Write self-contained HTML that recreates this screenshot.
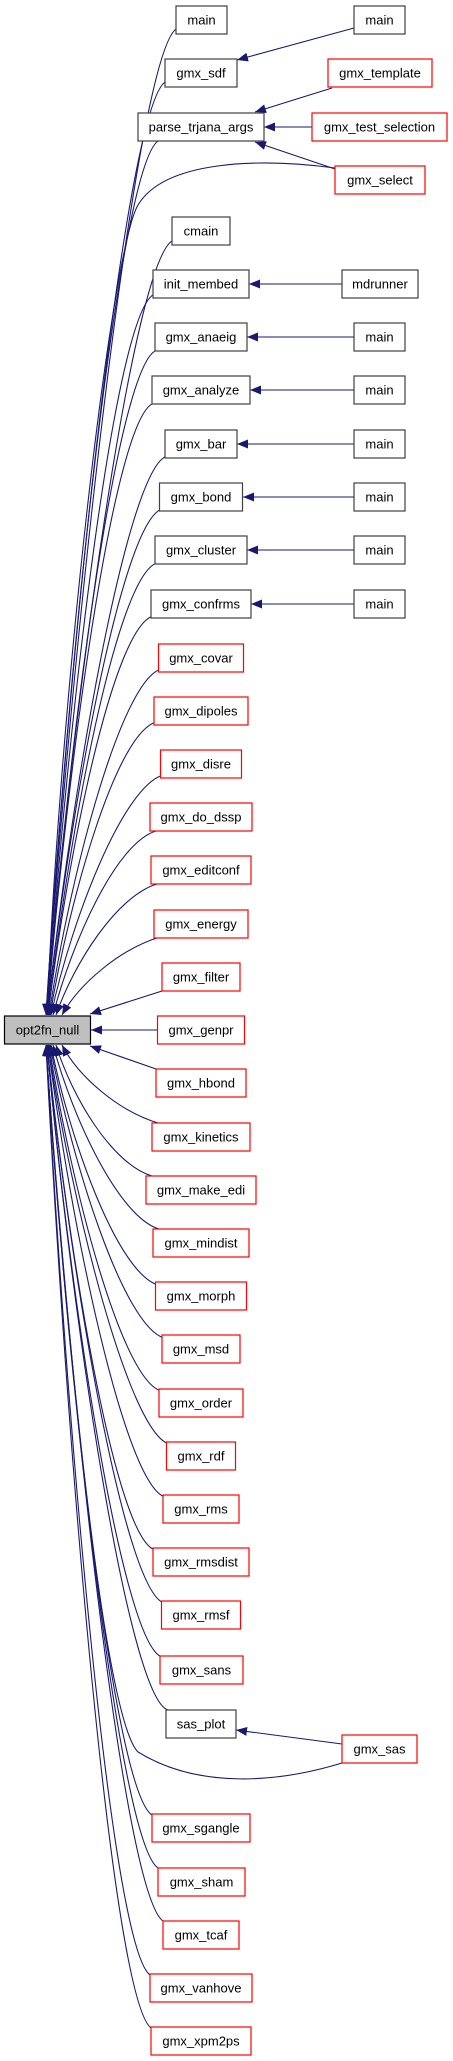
<!DOCTYPE html>
<html><head><meta charset="utf-8"><style>
html,body{margin:0;padding:0;background:#fff;width:453px;height:2061px;overflow:hidden}
svg{display:block}
text{font-family:"Liberation Sans",Arial,sans-serif;font-size:13px;text-anchor:middle;fill:#000}
.b{fill:#fff;stroke:#404040;stroke-width:1.2}
.r{fill:#fff;stroke:#ff0000;stroke-width:1.2}
.e{fill:none;stroke:#191970;stroke-width:1.1;marker-end:url(#a)}
</style></head><body>
<svg width="453" height="2061" viewBox="0 0 453 2061" xmlns="http://www.w3.org/2000/svg">
<defs><marker id="a" markerUnits="userSpaceOnUse" markerWidth="12" markerHeight="9" refX="11" refY="4.5" orient="auto"><path d="M0,0 L11,4.5 L0,9 z" fill="#191970"/></marker></defs>
<!-- edges up -->
<path class="e" d="M178,28 C138,40 74,620 46,1015"/>
<path class="e" d="M167,81 C127,93 70,641 46,1015"/>
<path class="e" d="M160,140 C120,152 68,665 46,1015"/>
<path class="e" d="M335,168 C260,158 165,160 138,205 C111,250 60,700 47,1015"/>
<path class="e" d="M174,240 C134,252 73,705 46,1015"/>
<path class="e" d="M155,294 C115,306 67,727 47,1015"/>
<path class="e" d="M157,350 C117,362 68,748 47,1015"/>
<path class="e" d="M154,403 C114,415 67,769 47,1015"/>
<path class="e" d="M167,456 C127,468 72,790 47,1015"/>
<path class="e" d="M162,509 C122,521 70,811 47,1015"/>
<path class="e" d="M157,563 C117,575 69,833 48,1015"/>
<path class="e" d="M153,616 C113,628 68,854 48,1015"/>
<path class="e" d="M161,669 C121,681 70,875 49,1015"/>
<path class="e" d="M156,722 C116,734 70,897 50,1015"/>
<path class="e" d="M163,775 C123,787 72,918 51,1015"/>
<path class="e" d="M156,831 C116,843 72,942 53,1015"/>
<path class="e" d="M157,884 C117,896 74,963 56,1015"/>
<path class="e" d="M160,937 C120,949 79,984 62,1015"/>
<path class="e" d="M162,991 L90,1014"/>
<path class="e" d="M157,1030 L91,1030"/>
<!-- edges down -->
<path class="e" d="M156,1069 L90,1046"/>
<path class="e" d="M158,1123 C118,1111 78,1076 62,1045"/>
<path class="e" d="M152,1176 C112,1164 72,1097 56,1045"/>
<path class="e" d="M159,1229 C119,1217 73,1119 53,1045"/>
<path class="e" d="M158,1285 C118,1273 70,1142 51,1045"/>
<path class="e" d="M164,1338 C124,1326 72,1164 50,1045"/>
<path class="e" d="M161,1391 C121,1379 71,1185 49,1045"/>
<path class="e" d="M169,1444 C129,1432 72,1206 48,1045"/>
<path class="e" d="M165,1497 C125,1485 71,1227 48,1045"/>
<path class="e" d="M155,1550 C115,1538 68,1249 47,1045"/>
<path class="e" d="M164,1603 C124,1591 70,1270 47,1045"/>
<path class="e" d="M162,1657 C122,1645 69,1291 47,1045"/>
<path class="e" d="M168,1710 C128,1698 71,1312 47,1045"/>
<path class="e" d="M342,1763 C280,1782 200,1790 138,1752 C105,1720 66,1350 46,1045"/>
<path class="e" d="M154,1816 C114,1804 66,1355 46,1045"/>
<path class="e" d="M160,1869 C120,1857 68,1376 46,1045"/>
<path class="e" d="M165,1922 C125,1910 70,1397 46,1045"/>
<path class="e" d="M152,1976 C112,1964 66,1419 46,1045"/>
<path class="e" d="M153,2029 C113,2017 66,1440 46,1045"/>
<!-- right-to-left edges -->
<path class="e" d="M354,28 L237,60"/>
<path class="e" d="M332,88 L255,112"/>
<path class="e" d="M312,127 L264,127"/>
<path class="e" d="M335,169 L255,142"/>
<path class="e" d="M342,284 L249,284"/>
<path class="e" d="M354,337 L247,337"/>
<path class="e" d="M354,390 L250,390"/>
<path class="e" d="M354,444 L237,444"/>
<path class="e" d="M354,497 L243,497"/>
<path class="e" d="M354,550 L247,550"/>
<path class="e" d="M354,604 L251,604"/>
<path class="e" d="M342,1744 L236,1730"/>
<!-- central node -->
<rect x="4.5" y="1016" width="86" height="28" fill="#bfbfbf" stroke="#000" stroke-width="1.2"/><text x="47.5" y="1034.5">opt2fn_null</text>
<!-- left column -->
<rect class="b" x="176" y="6" width="51" height="28"/><text x="201.5" y="24.5">main</text>
<rect class="b" x="165" y="59" width="72" height="28"/><text x="201" y="77.5">gmx_sdf</text>
<rect class="b" x="138" y="113" width="126" height="28"/><text x="201" y="131.5">parse_trjana_args</text>
<rect class="b" x="172" y="217" width="58" height="28"/><text x="201" y="235.5">cmain</text>
<rect class="b" x="153" y="270" width="96" height="28"/><text x="201" y="288.5">init_membed</text>
<rect class="b" x="155" y="323" width="92" height="28"/><text x="201" y="341.5">gmx_anaeig</text>
<rect class="b" x="152" y="376" width="98" height="28"/><text x="201" y="394.5">gmx_analyze</text>
<rect class="b" x="165" y="430" width="72" height="28"/><text x="201" y="448.5">gmx_bar</text>
<rect class="b" x="159.5" y="483" width="83" height="28"/><text x="201" y="501.5">gmx_bond</text>
<rect class="b" x="155" y="536" width="92" height="28"/><text x="201" y="554.5">gmx_cluster</text>
<rect class="b" x="151" y="590" width="100" height="28"/><text x="201" y="608.5">gmx_confrms</text>
<rect class="r" x="158.5" y="644" width="85" height="28"/><text x="201" y="662.5">gmx_covar</text>
<rect class="r" x="154" y="697" width="94" height="28"/><text x="201" y="715.5">gmx_dipoles</text>
<rect class="r" x="160.5" y="750" width="81" height="28"/><text x="201" y="768.5">gmx_disre</text>
<rect class="r" x="150" y="803" width="102" height="28"/><text x="201" y="821.5">gmx_do_dssp</text>
<rect class="r" x="151" y="856" width="100" height="28"/><text x="201" y="874.5">gmx_editconf</text>
<rect class="r" x="154" y="910" width="94" height="28"/><text x="201" y="928.5">gmx_energy</text>
<rect class="r" x="162" y="963" width="78" height="28"/><text x="201" y="981.5">gmx_filter</text>
<rect class="r" x="157.5" y="1016" width="87" height="28"/><text x="201" y="1034.5">gmx_genpr</text>
<rect class="r" x="156" y="1069" width="90" height="28"/><text x="201" y="1087.5">gmx_hbond</text>
<rect class="r" x="152" y="1123" width="98" height="28"/><text x="201" y="1141.5">gmx_kinetics</text>
<rect class="r" x="146" y="1176" width="110" height="28"/><text x="201" y="1194.5">gmx_make_edi</text>
<rect class="r" x="153" y="1229" width="96" height="28"/><text x="201" y="1247.5">gmx_mindist</text>
<rect class="r" x="155.5" y="1282" width="91" height="28"/><text x="201" y="1300.5">gmx_morph</text>
<rect class="r" x="162" y="1335" width="78" height="28"/><text x="201" y="1353.5">gmx_msd</text>
<rect class="r" x="159" y="1389" width="84" height="28"/><text x="201" y="1407.5">gmx_order</text>
<rect class="r" x="166.5" y="1442" width="69" height="28"/><text x="201" y="1460.5">gmx_rdf</text>
<rect class="r" x="163" y="1495" width="76" height="28"/><text x="201" y="1513.5">gmx_rms</text>
<rect class="r" x="153" y="1548" width="96" height="28"/><text x="201" y="1566.5">gmx_rmsdist</text>
<rect class="r" x="161.5" y="1601" width="79" height="28"/><text x="201" y="1619.5">gmx_rmsf</text>
<rect class="r" x="160" y="1656" width="83" height="28"/><text x="201.5" y="1674.5">gmx_sans</text>
<rect class="b" x="166" y="1710" width="70" height="28"/><text x="201" y="1728.5">sas_plot</text>
<rect class="r" x="152" y="1814" width="98" height="28"/><text x="201" y="1832.5">gmx_sgangle</text>
<rect class="r" x="158" y="1868" width="87" height="28"/><text x="201.5" y="1886.5">gmx_sham</text>
<rect class="r" x="163" y="1921" width="76" height="28"/><text x="201" y="1939.5">gmx_tcaf</text>
<rect class="r" x="150" y="1974" width="102" height="28"/><text x="201" y="1992.5">gmx_vanhove</text>
<rect class="r" x="151" y="2027" width="100" height="28"/><text x="201" y="2045.5">gmx_xpm2ps</text>
<!-- right column -->
<rect class="b" x="354" y="6" width="51" height="28"/><text x="379.5" y="24.5">main</text>
<rect class="r" x="328" y="59" width="104" height="28"/><text x="380" y="77.5">gmx_template</text>
<rect class="r" x="312" y="113" width="135" height="28"/><text x="379.5" y="131.5">gmx_test_selection</text>
<rect class="r" x="335" y="166" width="90" height="28"/><text x="380" y="184.5">gmx_select</text>
<rect class="b" x="342" y="270" width="76" height="28"/><text x="380" y="288.5">mdrunner</text>
<rect class="b" x="354" y="323" width="51" height="28"/><text x="379.5" y="341.5">main</text>
<rect class="b" x="354" y="376" width="51" height="28"/><text x="379.5" y="394.5">main</text>
<rect class="b" x="354" y="430" width="51" height="28"/><text x="379.5" y="448.5">main</text>
<rect class="b" x="354" y="483" width="51" height="28"/><text x="379.5" y="501.5">main</text>
<rect class="b" x="354" y="536" width="51" height="28"/><text x="379.5" y="554.5">main</text>
<rect class="b" x="354" y="590" width="51" height="28"/><text x="379.5" y="608.5">main</text>
<rect class="r" x="342" y="1735" width="75" height="28"/><text x="379.5" y="1753.5">gmx_sas</text>
</svg>
</body></html>
